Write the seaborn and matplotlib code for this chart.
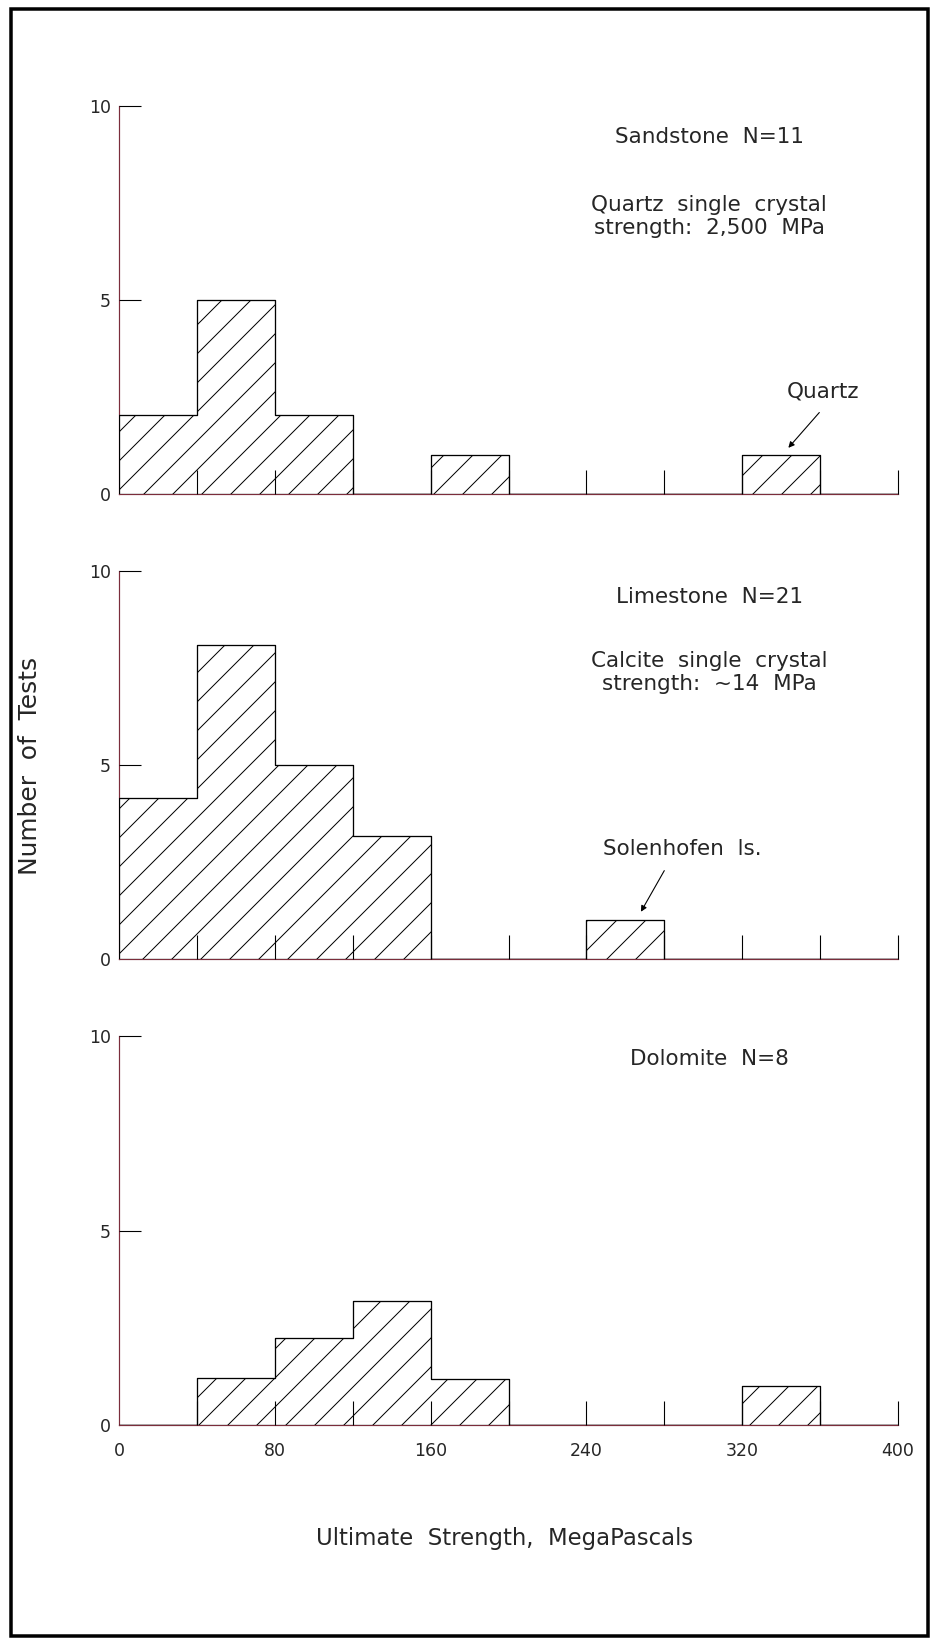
import numpy as np
import pandas as pd
import matplotlib
matplotlib.use("Agg")
import matplotlib.pyplot as plt
import seaborn as sns
from matplotlib.patches import Rectangle

# ---------------- data ----------------
bin_edges = [0, 40, 80, 120, 160, 200, 240, 280, 320, 360, 400]
sandstone_counts = [2.03, 5.0, 2.03, 0, 1.0, 0, 0, 0, 1.0, 0]
limestone_counts = [4.15, 8.08, 5.0, 3.15, 0, 0, 1.0, 0, 0, 0]
dolomite_counts = [0, 1.2, 2.24, 3.2, 1.18, 0, 0, 0, 1.0, 0]
panel_titles = ["Sandstone  N=11", "Limestone  N=21", "Dolomite  N=8"]
sandstone_note = ["Quartz  single  crystal", "strength:  2,500  MPa"]
limestone_note = ["Calcite  single  crystal", "strength:  ~14  MPa"]
x_tick_values = [0, 80, 160, 240, 320, 400]
x_minor_ticks = [40, 120, 200, 280, 360]
y_tick_values = [0, 5, 10]
x_label = "Ultimate  Strength,  MegaPascals"
y_label = "Number  of  Tests"

# ---------------- figure setup ----------------
DPI = 174
W, H = 931, 1638
def px(v):
    return v * 72.0 / DPI

sns.set_style("white")
plt.rcParams["font.family"] = ["DejaVu Sans"]
plt.rcParams["hatch.linewidth"] = px(1.0)
plt.rcParams["hatch.color"] = "black"

fig = plt.figure(figsize=(W / DPI, H / DPI), dpi=DPI)
fig.patch.set_facecolor("white")

spine_col = "#7b2d3b"
txt_col = "#262626"
centers = [(a + b) / 2 for a, b in zip(bin_edges[:-1], bin_edges[1:])]

# panel geometry in pixels: (y of 0, y of 10)
panels = [(494, 106), (958.7, 570.7), (1425, 1036)]
x0_px, x1_px = 119, 898
all_counts = [sandstone_counts, limestone_counts, dolomite_counts]
title_y = [9.21, 9.33, 9.42]

axes = []
for i, ((y0p, y10p), counts) in enumerate(zip(panels, all_counts)):
    ax = fig.add_axes([x0_px / W, 1 - y0p / H, (x1_px - x0_px) / W, (y0p - y10p) / H])
    df = pd.DataFrame({"strength": centers, "n": counts})
    sns.histplot(data=df, x="strength", weights="n", bins=bin_edges,
                 element="step", fill=True, alpha=1,
                 facecolor="white", edgecolor="black", linewidth=px(1.3),
                 hatch="//", ax=ax, zorder=3)
    ax.set_xlim(0, 400)
    ax.set_ylim(0, 10)
    ax.set_xlabel("")
    ax.set_ylabel("")
    for s in ["top", "right"]:
        ax.spines[s].set_visible(False)
    for s in ["left", "bottom"]:
        ax.spines[s].set_color(spine_col)
        ax.spines[s].set_linewidth(px(1.2))
        ax.spines[s].set_zorder(2)
    ax.set_xticks(x_tick_values)
    ax.set_xticks(x_minor_ticks, minor=True)
    ax.set_xticklabels([str(v) for v in x_tick_values])
    ax.tick_params(axis="x", which="both", bottom=True, direction="in", length=px(24),
                   width=px(1.1), color="black", pad=px(17),
                   labelsize=7.2, labelcolor=txt_col,
                   labelbottom=(i == 2))
    ax.set_yticks(y_tick_values)
    ax.set_yticklabels([str(v) for v in y_tick_values])
    ax.tick_params(axis="y", which="major", left=True, direction="in", length=px(22),
                   width=px(1.1), color="black", pad=px(8), labelsize=7.2,
                   labelcolor=txt_col)
    ax.set_facecolor("none")
    ax.xaxis.set_zorder(4)
    ax.yaxis.set_zorder(4)
    # no tick marks at the origin (they would sit on the axis lines)
    ax.xaxis.get_major_ticks()[0].tick1line.set_visible(False)
    ax.yaxis.get_major_ticks()[0].tick1line.set_visible(False)
    ax.text(303, title_y[i], panel_titles[i], ha="center", va="center",
            fontsize=8.9, color=txt_col)
    axes.append(ax)

# notes
axes[0].text(303, 7.45, sandstone_note[0], ha="center", va="center", fontsize=8.9, color=txt_col)
axes[0].text(303, 6.86, sandstone_note[1], ha="center", va="center", fontsize=8.9, color=txt_col)
axes[1].text(303, 7.66, limestone_note[0], ha="center", va="center", fontsize=8.9, color=txt_col)
axes[1].text(303, 7.07, limestone_note[1], ha="center", va="center", fontsize=8.9, color=txt_col)

# callouts
axes[0].text(361.5, 2.64, "Quartz", ha="center", va="center", fontsize=8.9, color=txt_col)
axes[0].annotate("", xy=(343.7, 1.19), xytext=(359.6, 2.10),
                 arrowprops=dict(arrowstyle="-|>", lw=px(1.1), color="black",
                                 mutation_scale=5, shrinkA=0, shrinkB=0))
axes[1].text(289, 2.84, "Solenhofen  ls.", ha="center", va="center", fontsize=8.9, color=txt_col)
axes[1].annotate("", xy=(268, 1.21), xytext=(280, 2.27),
                 arrowprops=dict(arrowstyle="-|>", lw=px(1.1), color="black",
                                 mutation_scale=5, shrinkA=0, shrinkB=0))

# axis titles
fig.text(505 / W, 1 - 1538 / H, x_label, ha="center", va="center", fontsize=9.4, color=txt_col)
fig.text(30 / W, 1 - 766 / H, y_label, ha="center", va="center", rotation=90,
         fontsize=10.3, color=txt_col)

# outer frame
fig.add_artist(Rectangle((10.5 / W, 1 - 1635.5 / H), (928 - 10.5) / W, (1635.5 - 8.5) / H,
                         transform=fig.transFigure, fill=False, edgecolor="black",
                         linewidth=px(3.5)))

fig.savefig("out.png", dpi=DPI, facecolor="white")
